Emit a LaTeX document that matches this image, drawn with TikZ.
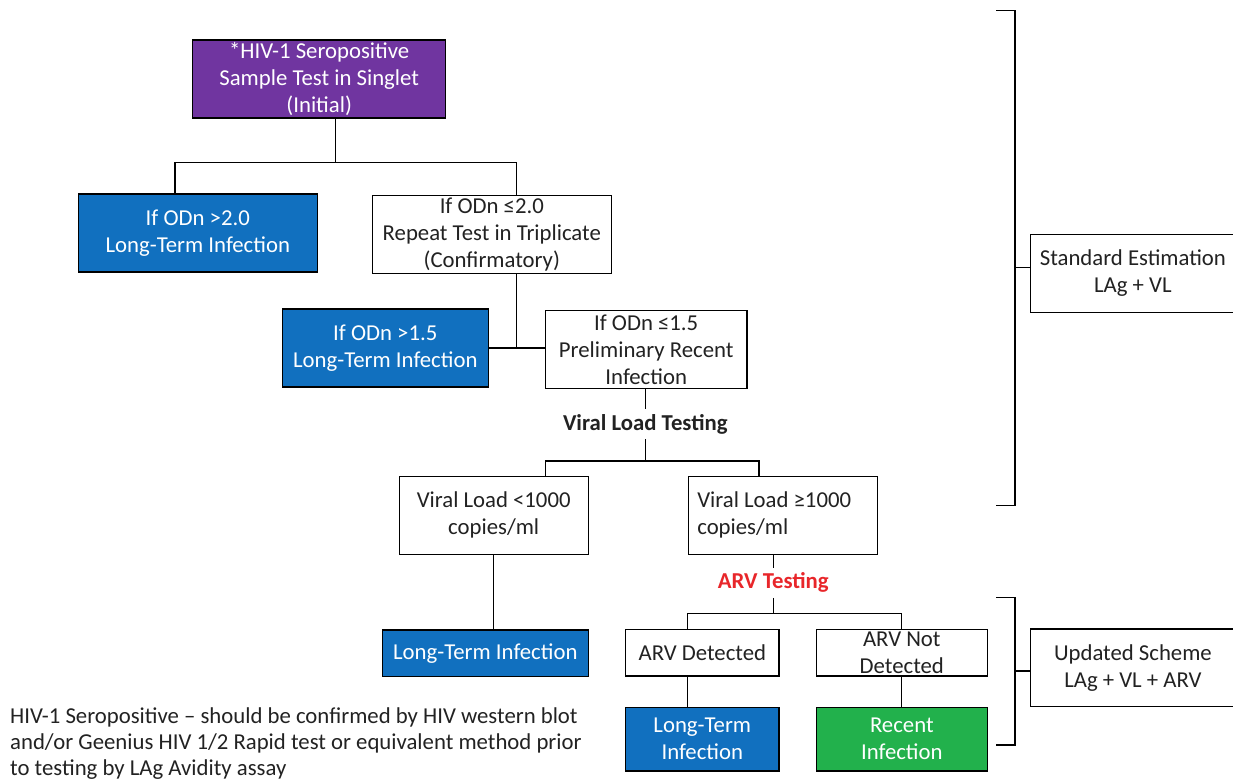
\documentclass[tikz,border=0pt]{standalone}
\usepackage{fontspec}
\setmainfont{Carlito}
\usetikzlibrary{calc}

\definecolor{hivpurple}{HTML}{7035A0}
\definecolor{ltblue}{HTML}{1170BF}
\definecolor{recgreen}{HTML}{22B14C}
\definecolor{arvred}{HTML}{E8262A}
\definecolor{inkgray}{HTML}{222222}

\begin{document}
\begin{tikzpicture}[
    x=1pt, y=-1pt,
    font=\fontsize{22.75}{27}\selectfont,
    every node/.style={text=inkgray},
    box/.style={rectangle, draw=black, line width=1.2pt, fill=white, inner sep=0pt, align=center},
    initial/.style={box, fill=hivpurple, text=white},
    longterm/.style={box, fill=ltblue, text=white},
    recent/.style={box, fill=recgreen, text=white},
    testing/.style={inner sep=0pt, minimum height=30pt, font=\fontsize{22.75}{27}\selectfont\bfseries},
    link/.style={line width=1.2pt, draw=black}
]
\useasboundingbox (0,0) rectangle (1233,782);

% --- Nodes ---
% Initial test
\node (init) at (319.2, 79) [initial, minimum width=253pt, minimum height=78pt] {*HIV-1 Seropositive\\ Sample Test in Singlet\\ (Initial)};

% Confirmatory stage
\node (lt1) at (197.8, 233) [longterm, minimum width=239pt, minimum height=78pt] {If ODn >2.0\\ Long-Term Infection};
\node (rep) at (491.8, 234.5) [box, minimum width=239pt, minimum height=78pt] {If ODn ≤2.0\\ Repeat Test in Triplicate\\ (Confirmatory)};
\node (lt2) at (385.3, 348) [longterm, minimum width=206pt, minimum height=78pt] {If ODn >1.5\\ Long-Term Infection};
\node (prel) at (646.2, 349.5) [box, minimum width=201.7pt, minimum height=78pt] {If ODn ≤1.5\\ Preliminary Recent\\ Infection};

% Viral load stage
\node (vlt) at (645.3, 424) [testing] {Viral Load Testing};
\node (vl1) at (493.7, 515.2) [box, minimum width=189pt, minimum height=78pt] {Viral Load <1000\\ copies/ml};
\node (vl2) at (782.8, 515.2) [box, minimum width=189pt, minimum height=78pt, align=flush left, text width=171pt] {Viral Load ≥1000\\ copies/ml};
\node (lt3) at (485.3, 653.3) [longterm, minimum width=206pt, minimum height=46.7pt] {Long-Term Infection};

% ARV stage
\node (arv) at (773.3, 582.7) [testing, text=arvred] {ARV Testing};
\node (arvd) at (702.3, 652.7) [box, minimum width=153.3pt, minimum height=46.7pt] {ARV Detected};
\node (arvnd) at (901.8, 652.7) [box, minimum width=171pt, minimum height=46.7pt] {ARV Not\\ Detected};
\node (lt4) at (702.3, 739.2) [longterm, minimum width=153.3pt, minimum height=63.7pt] {Long-Term\\ Infection};
\node (rec) at (901.8, 739.2) [recent, minimum width=171pt, minimum height=63.7pt] {Recent\\ Infection};

% Schemes on the right
\node (std) at (1132.9, 273.3) [box, minimum width=204.3pt, minimum height=78pt] {Standard Estimation\\ LAg + VL};
\node (upd) at (1132.9, 667.9) [box, minimum width=204.3pt, minimum height=77.7pt] {Updated Scheme\\ LAg + VL + ARV};

% Footnote
\node (note) at (10, 775.5) [anchor=base west, inner sep=0pt, align=flush left, font=\fontsize{22.75}{26}\selectfont] {HIV-1 Seropositive – should be confirmed by HIV western blot\\ and/or Geenius HIV 1/2 Rapid test or equivalent method prior\\ to testing by LAg Avidity assay};

% --- Edges ---
\draw [link] ([xshift=16.5]init.south) -- (335.7, 162.3) coordinate (j1);
\draw [link] ([xshift=-22.8]lt1.north) |- (j1) -| ([xshift=24.9]rep.north);

\draw [link] ([xshift=24.9]rep.south) -- ([xshift=24.9]rep.south |- lt2.east);
\draw [link] (lt2.east) -- (prel.west |- lt2.east);

\draw [link] (prel.south -| vlt) -- (vlt.north);
\draw [link] (vlt.south) -- ++(0,21.7) coordinate (j2);
\draw [link] ([xshift=52]vl1.north) |- (j2) -| ([xshift=-23.8]vl2.north);

\draw [link] (vl1.south) -- (vl1.south |- lt3.north);
\draw [link] (vl2.south -| arv) -- (arv.north);
\draw [link] (arv.south) -- ++(0,15.6) coordinate (j3);
\draw [link] ([xshift=-14.6]arvd.north) |- (j3) -| (arvnd.north);

\draw [link] ([xshift=-14.6]arvd.south) -- ([xshift=-14.6]lt4.north);
\draw [link] (arvnd.south) -- (rec.north);

% Brackets
\coordinate (b1) at (1015, 267.7);
\coordinate (b2) at (1015, 671);
\draw [link] (996, 10.7) -| (1015, 505.7) -- (996, 505.7);
\draw [link] (b1) -- (b1 -| std.west);
\draw [link] (996, 597.3) -| (1015, 745) -- (996, 745);
\draw [link] (b2) -- (b2 -| upd.west);

\end{tikzpicture}
\end{document}
